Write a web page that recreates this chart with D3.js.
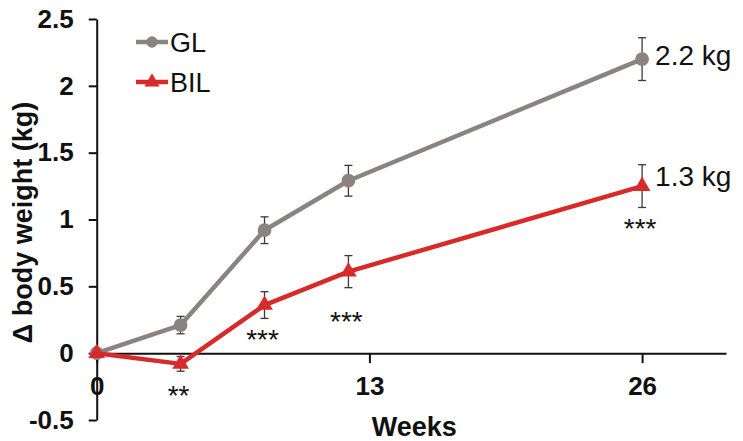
<!DOCTYPE html>
<html>
<head>
<meta charset="utf-8">
<script src="https://cdn.jsdelivr.net/npm/d3@7/dist/d3.min.js"></script>
<style>
  html, body { margin: 0; padding: 0; background: #fff; }
  svg { display: block; font-family: "Liberation Sans", Arial, Helvetica, sans-serif; }
</style>
</head>
<body>
<svg id="chart" width="743" height="441"></svg>
<script>
// Change in body weight over 26 weeks, GL vs BIL groups (mean ± SEM)
const weeks    = [0, 4, 8, 12, 26];
const glMean   = [0, 0.21, 0.92, 1.29, 2.2];
const glErr    = [0, 0.065, 0.10, 0.115, 0.16];
const bilMean  = [0, -0.08, 0.36, 0.61, 1.25];
const bilErr   = [0, 0.055, 0.10, 0.12, 0.16];

const xTicks = [0, 13, 26];
const yTicks = [-0.5, 0, 0.5, 1, 1.5, 2, 2.5];

// significance markers: week, label, vertical anchor (kg)
const sigWeeks  = [4, 8, 12, 26];
const sigLabels = ["**", "***", "***", "***"];
const sigLevels = [-0.27, 0.15, 0.29, 0.98];

const series = [
  { name: "GL",  mean: glMean,  err: glErr,  color: "#8b837f", marker: "circle" },
  { name: "BIL", mean: bilMean, err: bilErr, color: "#d72a2a", marker: "triangle" }
];

const svg = d3.select("#chart");
const x = d3.scaleLinear().domain([0, 30]).range([96.7, 726]);
const y = d3.scaleLinear().domain([-0.5, 2.5]).range([420, 19]);

const ink = "#111";

// y axis
const yAxis = svg.append("g")
  .attr("transform", `translate(${x(0)},0)`)
  .call(d3.axisLeft(y).tickValues(yTicks).tickFormat(d => String(d))
        .tickSize(8).tickSizeOuter(0).tickPadding(15));
yAxis.select(".domain").attr("stroke", ink).attr("stroke-width", 2);
yAxis.selectAll(".tick line").attr("stroke", ink).attr("stroke-width", 2);
yAxis.selectAll(".tick text")
  .attr("fill", ink).style("font-size", "26px").style("font-weight", "bold");

// x axis at zero
const xAxis = svg.append("g")
  .attr("transform", `translate(0,${y(0)})`)
  .call(d3.axisBottom(x).tickValues(xTicks).tickFormat(d => String(d))
        .tickSize(10).tickSizeOuter(0).tickPadding(13));
xAxis.select(".domain").attr("stroke", ink).attr("stroke-width", 2);
xAxis.selectAll(".tick line").attr("stroke", ink).attr("stroke-width", 2);
xAxis.selectAll(".tick text")
  .attr("fill", ink).style("font-size", "26px").style("font-weight", "bold");

// axis titles
svg.append("text")
  .attr("x", (x.range()[0] + x.range()[1]) / 2 + 3)
  .attr("y", 436)
  .attr("text-anchor", "middle")
  .attr("fill", ink)
  .style("font-size", "27px").style("font-weight", "bold")
  .text("Weeks");

svg.append("text")
  .attr("transform", `translate(32,${(y.range()[0] + y.range()[1]) / 2 + 3}) rotate(-90)`)
  .attr("text-anchor", "middle")
  .attr("fill", ink)
  .style("font-size", "27px").style("font-weight", "bold")
  .text("\u0394 body weight (kg)");

const line = d3.line().x(d => x(d.w)).y(d => y(d.v));
const markerPath = (type, size) =>
  d3.symbol().type(type === "circle" ? d3.symbolCircle : d3.symbolTriangle).size(size)();

series.forEach(s => {
  const pts = weeks.map((w, i) => ({ w, v: s.mean[i], e: s.err[i] }));
  const g = svg.append("g");

  // error bars
  const eb = g.selectAll(".eb").data(pts.filter(p => p.e > 0)).enter().append("g");
  eb.append("line")
    .attr("x1", p => x(p.w)).attr("x2", p => x(p.w))
    .attr("y1", p => y(p.v + p.e)).attr("y2", p => y(p.v - p.e));
  eb.append("line")
    .attr("x1", p => x(p.w) - 4).attr("x2", p => x(p.w) + 4)
    .attr("y1", p => y(p.v + p.e)).attr("y2", p => y(p.v + p.e));
  eb.append("line")
    .attr("x1", p => x(p.w) - 4).attr("x2", p => x(p.w) + 4)
    .attr("y1", p => y(p.v - p.e)).attr("y2", p => y(p.v - p.e));
  eb.selectAll("line").attr("stroke", "#3a3a3a").attr("stroke-width", 1.3);

  g.append("path")
    .datum(pts)
    .attr("d", line)
    .attr("fill", "none")
    .attr("stroke", s.color)
    .attr("stroke-width", 4.5)
    .attr("stroke-linejoin", "round");

  g.selectAll(".mk").data(pts).enter().append("path")
    .attr("transform", p => `translate(${x(p.w)},${y(p.v)})`)
    .attr("d", markerPath(s.marker, s.marker === "circle" ? 150 : 120))
    .attr("fill", s.color);

  // end-point value label
  const last = pts[pts.length - 1];
  const label = d3.format(".1f")(last.v);
  svg.append("text")
    .attr("x", x(last.w) + 13)
    .attr("y", y(+label))
    .attr("dy", "0.22em")
    .attr("fill", ink)
    .style("font-size", "28px")
    .text(label + " kg");
});

// significance asterisks
svg.selectAll(".sig").data(sigWeeks).enter().append("text")
  .attr("x", w => x(w) - 2)
  .attr("y", (w, i) => y(sigLevels[i]))
  .attr("dy", "0.58em")
  .attr("text-anchor", "middle")
  .attr("fill", ink)
  .style("font-size", "28px")
  .text((w, i) => sigLabels[i]);

// legend
const legend = svg.append("g");
series.forEach((s, i) => {
  const ly = 42 + i * 40;
  legend.append("line")
    .attr("x1", 136).attr("x2", 168).attr("y1", ly).attr("y2", ly)
    .attr("stroke", s.color).attr("stroke-width", 4.5);
  legend.append("path")
    .attr("transform", `translate(152,${ly})`)
    .attr("d", markerPath(s.marker, 100))
    .attr("fill", s.color);
  legend.append("text")
    .attr("x", 170).attr("y", ly).attr("dy", "0.36em")
    .attr("fill", ink)
    .style("font-size", "27px")
    .text(s.name);
});
</script>
</body>
</html>
